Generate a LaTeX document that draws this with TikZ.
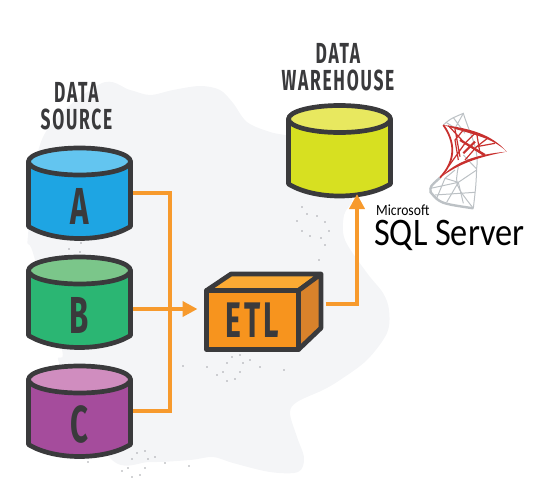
\documentclass[tikz,border=0pt]{standalone}
\usepackage{fontspec}
\usetikzlibrary{arrows.meta}
\newfontfamily\labelfont[FakeStretch=0.6,LetterSpace=6]{Fira Sans}
\newfontfamily\logofont[FakeStretch=0.88]{Carlito}
\definecolor{inkgrey}{HTML}{3A3A3C}
\definecolor{blobgrey}{HTML}{F4F5F7}
\definecolor{dotgrey}{HTML}{A4A6AB}
\definecolor{flowcol}{HTML}{F79A2D}
\definecolor{meshred}{HTML}{C8302E}
\definecolor{meshgrey}{HTML}{BCC1C5}
\definecolor{drumblue}{HTML}{1EA5E3}
\definecolor{drumbluetop}{HTML}{63C5F0}
\definecolor{drumgreen}{HTML}{2BB673}
\definecolor{drumgreentop}{HTML}{7BC68A}
\definecolor{drumpurple}{HTML}{A54C9C}
\definecolor{drumpurpletop}{HTML}{D08DBF}
\definecolor{drumyellow}{HTML}{D7E021}
\definecolor{drumyellowtop}{HTML}{E8E85F}
\definecolor{etlfront}{HTML}{F7941E}
\definecolor{etltop}{HTML}{FBAA33}
\definecolor{etlside}{HTML}{D9822B}
\newcommand{\drum}[6]{%
	\draw[drumline,fill=#4] (#2-51,#3) -- (#2-51,#3+65) .. controls (#2-25,#3+81) and (#2+25,#3+81) .. (#2+51,#3+65) -- (#2+51,#3) -- cycle;
	\draw[drumline,fill=#5] (#2,#3) ellipse (51 and 13.5);
	\node[drumframe] (#1) at (#2,#3+31.5) {};
	\node[drumletter] (#1txt) at (#2,#3+45) {#6};
}
\begin{document}
\begin{tikzpicture}[
	x = 1pt, y = -1pt,
	drumline/.style = {draw=inkgrey,line width=4.7pt,line join=round},
	drumframe/.style = {minimum width=102pt,minimum height=95pt,inner sep=0pt,outer sep=0pt},
	drumletter/.style = {inner sep=0pt,text=inkgrey,font=\labelfont\bfseries\fontsize{52}{52}\selectfont},
	heading/.style = {align=center,inner sep=0pt,text=inkgrey,font=\labelfont\bfseries\fontsize{29}{27}\selectfont},
	flow/.style = {draw=flowcol,line width=4pt,shorten <=2.3pt},
	flowhead/.style = {flow,-{Triangle[width=15pt,length=15pt]}},
	boxface/.style = {draw=inkgrey,line width=4.7pt,line join=round},
	meshback/.style = {draw=meshgrey,line width=1pt},
	meshfront/.style = {draw=meshred,line width=1.2pt}]
	\useasboundingbox (0,0) rectangle (552,490);

	\fill[blobgrey] plot[smooth cycle,tension=0.55] coordinates {
		(100,84) (130,90) (150,95) (173,90) (200,86) (220,90) (233,103) (247,122) (270,132) (300,140)
		(335,170) (352,198) (344,215) (345,240) (367,273) (383,293) (389,310) (387,333) (367,360) (340,380)
		(323,390) (297,402) (290,413) (297,437) (304,458) (298,472) (270,472) (233,463) (213,457) (190,460)
		(150,462) (110,458) (60,365) (62,350) (33,253) (28,235) (43,137)};

	\foreach \px/\py in {232/357,240/355,227/363,243/363,250/360,260/367,284/370,240/372,223/372,217/375,235/379,227/381,207/367,183/366,319/260,137/453,145/451,132/459,148/459,155/457,165/463,189/466,145/468,128/468,122/471,140/475,132/477,88/462,302/207,307/214,317/216,325/222,297/221,302/231,310/236,321/238,329/231,325/245,69/249,80/252,81/243} {
		\fill[dotgrey] (\px,\py) circle (0.9);
	}

	\coordinate (trunk) at (170,300);

	\drum{a}{79.5}{161.5}{drumblue}{drumbluetop}{A}
	\drum{b}{79.5}{270.5}{drumgreen}{drumgreentop}{B}
	\drum{c}{79.5}{379.5}{drumpurple}{drumpurpletop}{C}
	\drum{w}{339.5}{119}{drumyellow}{drumyellowtop}{}

	\draw[flow,shorten >=2.3pt] (a.east) -| (trunk) |- (c.east);

	\node[heading] (lblsource) at (76.5,106) {DATA\\SOURCE};
	\node[heading] (lblware) at (338,67.5) {DATA\\WAREHOUSE};

	\fill[etltop,draw=inkgrey,line width=4.7pt,line join=round] (206.5,290.5) -- (231,274) -- (321,274) -- (298.5,290.5) -- cycle;
	\fill[etlside,draw=inkgrey,line width=4.7pt,line join=round] (298.5,290.5) -- (321,274) -- (321,328) -- (298.5,349.5) -- cycle;
	\node[boxface,fill=etlfront,minimum width=92pt,minimum height=59pt,inner sep=0pt,outer sep=0pt,text=inkgrey,font=\labelfont\bfseries\fontsize{50}{50}\selectfont] (etl) at (252.5,320) {ETL};

	\draw[flowhead,shorten >=9pt] ([yshift=-7pt]b.east) -- ([yshift=11pt]etl.west);
	\draw[flowhead,shorten >=-4pt] ([xshift=25pt,yshift=16pt]etl.east) -| ([xshift=17.5pt]w.south);

	\begin{scope}[shift={(420,105)},x=0.3333pt,y=-0.3333pt]
		\draw[meshback] (70,60) .. controls (90,42) .. (130,25) .. controls (150,90) and (178,130) .. (170,190) .. controls (168,240) .. (160,310);
		\draw[meshback,line width=2.4pt] (60,218) .. controls (30,245) .. (32,262) .. controls (60,295) .. (160,310);
		\draw[meshback] (78,52) -- (115,75) (100,38) -- (135,85) (130,25) -- (105,70) (115,185) .. controls (105,240) .. (160,310);
		\draw[meshback] (50,280) -- (75,220) -- (105,195) (32,250) -- (115,232) -- (170,195) (75,220) -- (115,232) -- (130,295) (80,292) -- (115,232) (45,270) -- (165,262) (130,150) -- (168,190);
		\fill[meshred] (70,60) .. controls (150,70) and (215,88) .. (260,140) .. controls (215,95) and (150,88) .. (70,60);
		\fill[meshred] (60,218) .. controls (110,168) and (170,148) .. (260,140) .. controls (170,157) and (115,178) .. (60,218);
		\draw[meshfront,line width=1.8pt] (70,60) .. controls (105,110) and (110,165) .. (60,218);
		\draw[meshfront] (85,62) -- (135,115) -- (190,150) (105,72) -- (120,155) (130,75) -- (105,105) -- (115,165) (165,85) -- (135,115) -- (85,185) (170,85) -- (180,145) (205,98) -- (170,125) -- (135,165) (225,115) -- (170,125);
		\draw[meshfront,line width=2.2pt] (120,105) -- (195,150) (130,145) -- (165,110);
	\end{scope}

	\node[anchor=base west,inner sep=0pt,font=\logofont\fontsize{15.5}{15.5}\selectfont] (mslogo) at (376,215) {Microsoft};
	\node[anchor=base west,inner sep=0pt,font=\logofont\fontsize{39}{39}\selectfont] (sqllogo) at (374,245) {SQL Server};
\end{tikzpicture}
\end{document}
